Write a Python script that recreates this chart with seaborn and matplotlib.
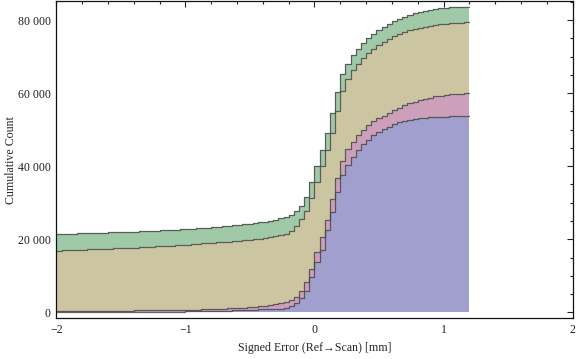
import numpy as np
import pandas as pd
import matplotlib
matplotlib.use('Agg')
import matplotlib.pyplot as plt
from matplotlib.ticker import MultipleLocator, FuncFormatter
import seaborn as sns

# bins of 0.04 mm from -2.0 to 1.2 (80 bins); cumulative counts in thousands
bin_edges = np.round(np.arange(-2.0, 1.2001, 0.04), 2)

green = [21.40, 21.45, 21.50, 21.55, 21.60, 21.64, 21.68, 21.72, 21.76, 21.80,
         21.85, 21.90, 21.95, 22.00, 22.05, 22.10, 22.15, 22.20, 22.25, 22.32,
         22.40, 22.48, 22.55, 22.62, 22.70, 22.80, 22.90, 23.00, 23.10, 23.20,
         23.30, 23.42, 23.55, 23.68, 23.82, 23.96, 24.10, 24.28, 24.46, 24.65,
         24.85, 25.10, 25.40, 25.75, 26.15, 26.70, 27.60, 29.10, 31.60, 35.60,
         40.00, 44.40, 49.00, 54.50, 60.40, 65.30, 68.10, 70.40, 72.20, 73.60,
         75.00, 76.30, 77.30, 78.20, 79.00, 79.70, 80.30, 80.90, 81.40, 81.80,
         82.20, 82.50, 82.80, 83.00, 83.20, 83.35, 83.50, 83.60, 83.65, 83.70]

tan = [16.90, 16.95, 17.00, 17.05, 17.10, 17.15, 17.20, 17.25, 17.30, 17.36,
       17.42, 17.48, 17.54, 17.60, 17.66, 17.72, 17.80, 17.88, 17.96, 18.04,
       18.12, 18.20, 18.28, 18.36, 18.45, 18.55, 18.65, 18.75, 18.85, 18.95,
       19.05, 19.15, 19.26, 19.38, 19.50, 19.62, 19.76, 19.90, 20.05, 20.20,
       20.38, 20.60, 20.85, 21.15, 21.55, 22.30, 23.60, 25.50, 27.80, 31.30,
       35.70, 40.10, 44.50, 49.20, 55.00, 60.70, 63.80, 66.20, 68.10, 69.70,
       70.90, 72.00, 73.10, 74.00, 74.90, 75.60, 76.20, 76.80, 77.20, 77.60,
       77.90, 78.20, 78.40, 78.60, 78.85, 79.05, 79.15, 79.25, 79.30, 79.40]

pink = [0.25, 0.26, 0.27, 0.28, 0.29, 0.30, 0.31, 0.32, 0.33, 0.34,
        0.45, 0.46, 0.47, 0.48, 0.49, 0.50, 0.51, 0.52, 0.53, 0.54,
        0.55, 0.62, 0.63, 0.65, 0.66, 0.68, 0.70, 0.75, 0.82, 0.85,
        0.88, 0.92, 0.96, 1.05, 1.20, 1.25, 1.30, 1.50, 1.55, 1.65,
        1.80, 2.00, 2.20, 2.50, 2.70, 3.40, 4.30, 5.80, 8.30, 11.90,
        16.40, 20.50, 25.30, 30.90, 36.70, 41.50, 44.60, 46.60, 48.50, 50.00,
        51.30, 52.30, 53.10, 53.80, 54.60, 55.30, 56.00, 56.70, 57.20, 57.70,
        58.10, 58.50, 58.80, 59.10, 59.30, 59.50, 59.65, 59.75, 59.85, 59.90]

blue = [0.02, 0.02, 0.03, 0.03, 0.04, 0.04, 0.05, 0.05, 0.06, 0.06,
        0.10, 0.10, 0.11, 0.11, 0.12, 0.12, 0.13, 0.13, 0.14, 0.14,
        0.15, 0.18, 0.19, 0.20, 0.21, 0.22, 0.24, 0.30, 0.32, 0.34,
        0.36, 0.38, 0.40, 0.44, 0.50, 0.55, 0.60, 0.70, 0.74, 0.78,
        0.82, 0.86, 0.90, 0.95, 1.30, 1.80, 2.50, 3.80, 5.80, 9.60,
        13.70, 17.00, 22.50, 27.50, 33.00, 37.50, 40.30, 42.40, 44.40, 46.10,
        47.30, 48.50, 49.40, 50.10, 50.80, 51.50, 52.00, 52.40, 52.70, 53.00,
        53.15, 53.30, 53.40, 53.50, 53.55, 53.60, 53.65, 53.70, 53.70, 53.72]

series = [('green', green, '#a0c9a7'),
          ('tan', tan, '#cbc6a1'),
          ('pink', pink, '#cc9fba'),
          ('blue', blue, '#a09fcd')]

centers = bin_edges[:-1] + 0.02
edges = bin_edges.tolist()

sns.set_style('white')
plt.rcParams['font.family'] = ['Liberation Serif', 'DejaVu Serif']

fig = plt.figure(figsize=(5.76, 3.59), dpi=100)
ax = fig.add_axes([0.098, 0.1134, 0.896, 0.8836])

# draw from the biggest series down so smaller ones sit on top
for name, vals, col in series:
    df = pd.DataFrame({'x': centers, 'w': np.array(vals) * 1000})
    sns.histplot(data=df, x='x', weights='w', bins=edges, element='step',
                 fill=True, color=col, alpha=1, linewidth=0, ax=ax)
    sns.histplot(data=df, x='x', weights='w', bins=edges, element='step',
                 fill=False, color='#4a4a4a', alpha=0.85, linewidth=0.9, ax=ax)

ax.set_xlim(-2, 2)
ax.set_ylim(-1640, 85200)
ax.xaxis.set_major_locator(MultipleLocator(1))
ax.xaxis.set_minor_locator(MultipleLocator(0.2))
ax.yaxis.set_major_locator(MultipleLocator(20000))
ax.yaxis.set_minor_locator(MultipleLocator(5000))
ax.yaxis.set_major_formatter(FuncFormatter(lambda v, p: f'{int(v):,}'.replace(',', ' ')))
ax.xaxis.set_major_formatter(FuncFormatter(lambda v, p: f'{int(v)}'.replace('-', '\u2212')))
ax.tick_params(which='both', direction='in', top=True, right=True,
               labelsize=8.6, colors='#222222', width=0.8)
ax.tick_params(which='major', length=4, pad=4)
ax.tick_params(which='minor', length=2)
for s in ax.spines.values():
    s.set_linewidth(0.9)
    s.set_color('#111111')

ax.set_xlabel('Signed Error (Ref\u2192Scan) [mm]', fontsize=8.6)
ax.set_ylabel('Cumulative Count', fontsize=8.6)
ax.xaxis.set_label_coords(0.5, -0.094)
ax.xaxis.label.set_va('center')
ax.yaxis.set_label_coords(-0.088, 0.5)
ax.yaxis.label.set_va('center')

fig.savefig('out.png', dpi=100)
